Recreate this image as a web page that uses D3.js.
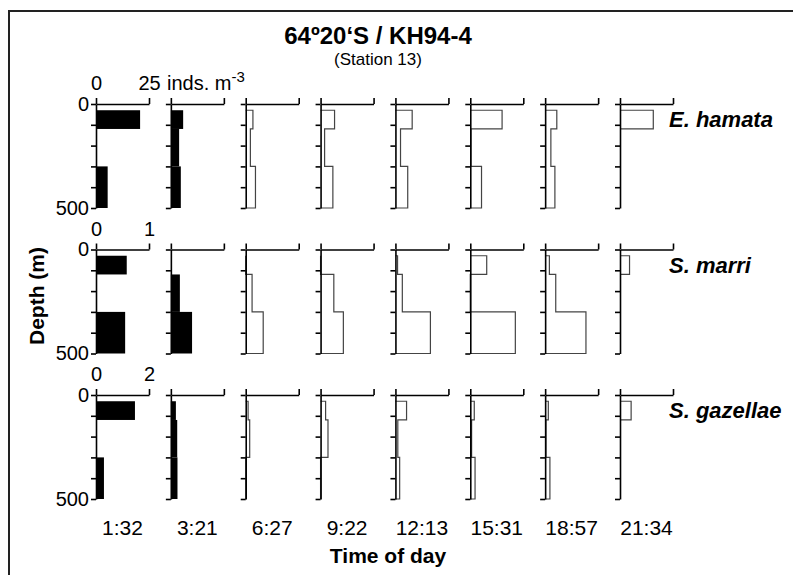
<!DOCTYPE html>
<html>
<head>
<meta charset="utf-8">
<script src="https://cdn.jsdelivr.net/npm/d3@7"></script>
<style>
  body { margin: 0; background: #fff; }
  text { font-family: "Liberation Sans", Arial, sans-serif; fill: #000; }
</style>
</head>
<body>
<script>
// sampling times (columns) and species (rows)
var times = ['1:32', '3:21', '6:27', '9:22', '12:13', '15:31', '18:57', '21:34'];
var species = ['E. hamata', 'S. marri', 'S. gazellae'];
// top of axis value for each row
var scaleMax = [25, 1, 2];
var depthTicks = [0, 100, 200, 300, 400, 500];
// depth layers sampled (m)
var layerTop = [30, 120, 300];
var layerBottom = [120, 300, 500];

// inds. m-3 per layer, one row per time, null = not sampled
var hamata = [
  [20.8, 0, 5.5],
  [5.8, 3.9, 4.7],
  [3.4, 2.2, 4.6],
  [6.6, 1.9, 5.8],
  [7.9, 2.4, 5.8],
  [15.0, 0.3, 5.3],
  [5.5, 2.7, 4.6],
  [15.7, null, null]
];
var marri = [
  [0.58, 0, 0.55],
  [0, 0.17, 0.40],
  [0, 0.12, 0.33],
  [0, 0.25, 0.43],
  [0.04, 0.13, 0.66],
  [0.31, 0, 0.85],
  [0.08, 0.20, 0.77],
  [0.18, null, null]
];
var gazellae = [
  [1.47, 0, 0.30],
  [0.19, 0.24, 0.25],
  [0.09, 0.15, 0],
  [0.19, 0.28, 0],
  [0.42, 0.09, 0.16],
  [0.15, 0.05, 0.18],
  [0.12, 0.03, 0.18],
  [0.42, null, null]
];
var values = [hamata, marri, gazellae];

var width = 793, height = 575;
var panelW = 53, panelH = 104;

var svg = d3.select('body').append('svg')
  .attr('width', width)
  .attr('height', height);

// frame, only left and top edges show
svg.append('path')
  .attr('d', 'M9,575 L9,11 L793,11')
  .attr('fill', 'none')
  .attr('stroke', '#222')
  .attr('stroke-width', 2);

// panel positions
var colX = d3.scalePoint().domain(times).range([96, 620]);
var rowY = d3.scalePoint().domain(species).range([104, 395]);
var y = d3.scaleLinear().domain([0, 500]).range([0, panelH]);

svg.append('text')
  .attr('x', 378).attr('y', 44)
  .attr('text-anchor', 'middle')
  .style('font-size', '24px').style('font-weight', 'bold')
  .text('64º20‘S / KH94-4');

svg.append('text')
  .attr('x', 378).attr('y', 65)
  .attr('text-anchor', 'middle')
  .style('font-size', '17px')
  .text('(Station 13)');

species.forEach(function(sp, r) {
  var x = d3.scaleLinear().domain([0, scaleMax[r]]).range([0, panelW]);

  var line = d3.line()
    .x(function(d) { return x(d[0]); })
    .y(function(d) { return y(d[1]); });

  times.forEach(function(t, c) {
    var g = svg.append('g')
      .attr('transform', 'translate(' + colX(t) + ',' + rowY(sp) + ')');
    var vals = values[r][c];

    if (c < 2) {
      // first two profiles are filled bars
      g.selectAll('rect')
        .data(vals.map(function(v, i) { return {v: v, i: i}; }).filter(function(d) { return d.v; }))
        .enter().append('rect')
        .attr('x', 0)
        .attr('y', function(d) { return y(layerTop[d.i]); })
        .attr('width', function(d) { return x(d.v); })
        .attr('height', function(d) { return y(layerBottom[d.i]) - y(layerTop[d.i]); })
        .attr('fill', '#000');
    } else {
      // the others are stepped outlines
      var pts = [[0, layerTop[0]]];
      var last = layerTop[0];
      vals.forEach(function(v, i) {
        if (v === null) return;
        pts.push([v, layerTop[i]], [v, layerBottom[i]]);
        last = layerBottom[i];
      });
      pts.push([0, last]);
      g.append('path')
        .attr('d', line(pts))
        .attr('fill', 'none')
        .attr('stroke', '#444')
        .attr('stroke-width', 1.2);
    }

    var yAxis = d3.axisLeft(y)
      .tickValues(depthTicks)
      .tickSize(5)
      .tickSizeOuter(0)
      .tickPadding(2)
      .tickFormat(function(d) { return (c === 0 && (d === 0 || d === 500)) ? d : ''; });

    var xAxis = d3.axisTop(x)
      .tickValues([0, scaleMax[r]])
      .tickSize(6)
      .tickSizeOuter(0)
      .tickPadding(8)
      .tickFormat(function(d) { return c === 0 ? d : ''; });

    [g.append('g').call(yAxis), g.append('g').call(xAxis)].forEach(function(a) {
      a.select('.domain').attr('stroke', '#000').attr('stroke-width', 1.6);
      a.selectAll('.tick line').attr('stroke', '#000').attr('stroke-width', 1.6);
      a.selectAll('text')
        .style('font-family', '"Liberation Sans", Arial, sans-serif')
        .style('font-size', '20px')
        .attr('fill', '#000');
    });

    if (r === 0 && c === 0) {
      var unit = g.append('text')
        .attr('x', x(scaleMax[r]) + 18)
        .attr('y', -14)
        .style('font-size', '20px');
      unit.append('tspan').text('inds. m');
      unit.append('tspan').attr('dy', -8).style('font-size', '15px').text('-3');
    }

    if (r === species.length - 1) {
      svg.append('text')
        .attr('x', colX(t) + panelW / 2)
        .attr('y', 535)
        .attr('text-anchor', 'middle')
        .style('font-size', '21px')
        .text(t);
    }
  });

  svg.append('text')
    .attr('x', 669)
    .attr('y', rowY(sp) + 23)
    .style('font-size', '22px')
    .style('font-weight', 'bold')
    .style('font-style', 'italic')
    .text(sp);
});

svg.append('text')
  .attr('transform', 'translate(44,296) rotate(-90)')
  .attr('text-anchor', 'middle')
  .style('font-size', '21px')
  .style('font-weight', 'bold')
  .text('Depth (m)');

svg.append('text')
  .attr('x', 388).attr('y', 563)
  .attr('text-anchor', 'middle')
  .style('font-size', '21px')
  .style('font-weight', 'bold')
  .text('Time of day');
</script>
</body>
</html>
